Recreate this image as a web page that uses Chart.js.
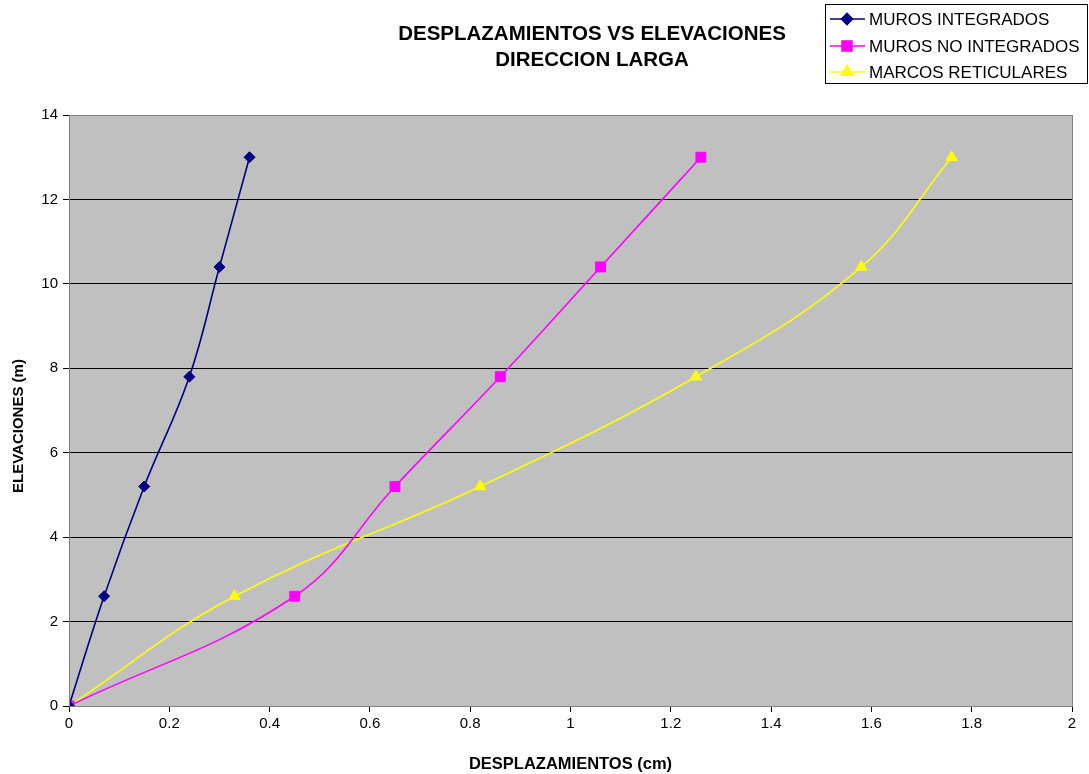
<!DOCTYPE html>
<html>
<head>
<meta charset="utf-8">
<script src="https://cdn.jsdelivr.net/npm/chart.js@4.4.1/dist/chart.umd.min.js"></script>
<style>
  html, body { margin: 0; padding: 0; background: #fff; }
  #wrap { width: 1089px; height: 774px; }
</style>
</head>
<body>
<div id="wrap"><canvas id="chart" width="1089" height="774"></canvas></div>
<script>
// values
const elevaciones = [0, 2.6, 5.2, 7.8, 10.4, 13.0];
const murosIntegrados = [0, 0.07, 0.15, 0.24, 0.30, 0.36];
const murosNoIntegrados = [0, 0.45, 0.65, 0.86, 1.06, 1.26];
const marcosReticulares = [0, 0.33, 0.82, 1.25, 1.58, 1.76];

const seriesNames = ['MUROS INTEGRADOS', 'MUROS NO INTEGRADOS', 'MARCOS RETICULARES'];
const titleLines = ['DESPLAZAMIENTOS VS ELEVACIONES', 'DIRECCION LARGA'];
const yTitle = 'ELEVACIONES (m)';
const xTitle = 'DESPLAZAMIENTOS (cm)';

const FONT = '"Liberation Sans", Arial, sans-serif';

function toPoints(xs) {
    return xs.map((x, i) => ({ x: x, y: elevaciones[i] }));
}

const styles = [
    { color: '#000080', marker: 'rectRot', radius: 5.5 },
    { color: '#FF00FF', marker: 'rect', radius: 7 },
    { color: '#FFFF00', marker: 'triangle', radius: 6.5 },
];

const datasets = [murosIntegrados, murosNoIntegrados, marcosReticulares].map((xs, i) => ({
    label: seriesNames[i],
    data: toPoints(xs),
    showLine: true,
    borderColor: styles[i].color,
    backgroundColor: styles[i].color,
    borderWidth: 1.6,
    pointStyle: styles[i].marker,
    pointRadius: styles[i].radius,
    pointBorderWidth: 1,
    pointBorderColor: styles[i].color,
    pointBackgroundColor: styles[i].color,
    tension: 0.4,
}));

// gray plot area, border, header title, y title and boxed legend
const excelLook = {
    id: 'excelLook',
    beforeDraw(chart) {
        const { ctx, chartArea: a } = chart;
        ctx.save();
        ctx.fillStyle = '#C0C0C0';
        ctx.fillRect(a.left, a.top, a.right - a.left, a.bottom - a.top);
        ctx.restore();
    },
    afterDraw(chart) {
        const { ctx, chartArea: a } = chart;
        ctx.save();
        ctx.strokeStyle = '#808080';
        ctx.lineWidth = 1;
        ctx.strokeRect(a.left + 0.5, a.top + 0.5, a.right - a.left, a.bottom - a.top);

        // title
        ctx.fillStyle = '#000';
        ctx.font = 'bold 20.5px ' + FONT;
        ctx.textAlign = 'center';
        ctx.textBaseline = 'middle';
        ctx.fillText(titleLines[0], 592, 34);
        ctx.fillText(titleLines[1], 592, 60);

        // y axis title
        ctx.save();
        ctx.translate(19, 426);
        ctx.rotate(-Math.PI / 2);
        ctx.font = 'bold 15px ' + FONT;
        ctx.fillText(yTitle, 0, 0);
        ctx.restore();

        // legend
        ctx.fillStyle = '#fff';
        ctx.fillRect(825, 4, 263, 80);
        ctx.strokeStyle = '#000';
        ctx.strokeRect(825.5, 4.5, 262, 79);
        const rows = [19, 46, 72];
        ctx.font = '17px ' + FONT;
        ctx.textAlign = 'left';
        chart.data.datasets.forEach((ds, i) => {
            const y = rows[i];
            ctx.strokeStyle = ds.borderColor;
            ctx.lineWidth = 1.6;
            ctx.beginPath();
            ctx.moveTo(830, y);
            ctx.lineTo(865, y);
            ctx.stroke();
            ctx.fillStyle = ds.borderColor;
            Chart.helpers.drawPoint(ctx, {
                pointStyle: ds.pointStyle,
                radius: ds.pointRadius,
                borderWidth: 1,
                rotation: 0,
            }, 847, y);
            ctx.fillStyle = '#000';
            ctx.fillText(ds.label, 869, y + 1);
        });
        ctx.restore();
    }
};

new Chart(document.getElementById('chart'), {
    type: 'scatter',
    data: { datasets: datasets },
    plugins: [excelLook],
    options: {
        responsive: false,
        animation: false,
        layout: { padding: { top: 115, right: 17, left: 0, bottom: 0 } },
        plugins: {
            legend: { display: false },
            title: { display: false },
            tooltip: { enabled: false },
        },
        scales: {
            x: {
                type: 'linear',
                min: 0,
                max: 2,
                ticks: {
                    stepSize: 0.2,
                    color: '#000',
                    font: { family: FONT, size: 15 },
                    padding: 3,
                    maxRotation: 0,
                    callback: v => Number(v.toFixed(1)).toString(),
                },
                grid: { drawOnChartArea: false, drawTicks: true, tickLength: 6, color: '#000' },
                border: { color: '#000', width: 1 },
                title: {
                    display: true,
                    text: xTitle,
                    color: '#000',
                    font: { family: FONT, size: 16.5, weight: 'bold' },
                    padding: { top: 9, bottom: 0 },
                },
                afterFit(scale) { scale.height = 68; },
            },
            y: {
                type: 'linear',
                min: 0,
                max: 14,
                ticks: {
                    stepSize: 2,
                    color: '#000',
                    font: { family: FONT, size: 15 },
                    padding: 5,
                },
                grid: { color: '#000', lineWidth: 1, drawTicks: true, tickLength: 6 },
                border: { color: '#000', width: 1 },
                title: { display: false },
                afterFit(scale) { scale.width = 69; },
            },
        },
    },
});
</script>
</body>
</html>
